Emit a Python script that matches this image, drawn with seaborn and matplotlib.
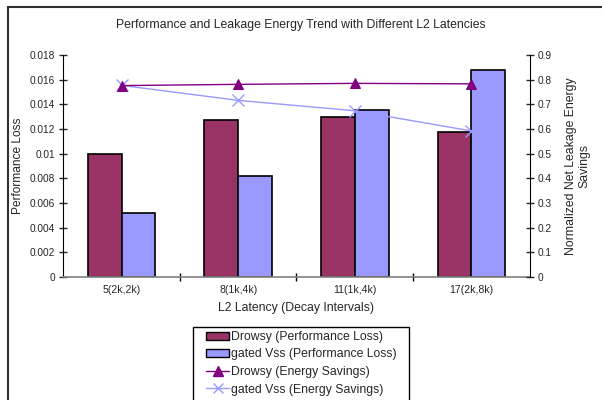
import matplotlib
matplotlib.use("Agg")
from matplotlib import pyplot as plt
from matplotlib.patches import Rectangle
from matplotlib.ticker import FixedLocator
import seaborn as sns
import pandas as pd

# Data
latencies = ["5(2k,2k)", "8(1k,4k)", "11(1k,4k)", "17(2k,8k)"]
drowsy_perf = [0.00997, 0.01273, 0.01295, 0.01173]
gated_perf = [0.00516, 0.00819, 0.01357, 0.01676]
drowsy_energy = [0.776, 0.781, 0.785, 0.783]
gated_energy = [0.777, 0.716, 0.674, 0.592]

bar_names = ["Drowsy (Performance Loss)", "gated Vss (Performance Loss)"]
line_names = ["Drowsy (Energy Savings)", "gated Vss (Energy Savings)"]

if __name__ == "__main__":
    sns.set_style("white")
    plt.rcParams["font.family"] = ["Liberation Sans", "DejaVu Sans"]

    bars = pd.DataFrame({
        "latency": latencies * 2,
        "loss": drowsy_perf + gated_perf,
        "series": [bar_names[0]] * 4 + [bar_names[1]] * 4,
    })

    fig = plt.figure(figsize=(6.02, 4.0), dpi=100)
    ax = fig.add_axes([0.105, 0.3075, 0.775, 0.555])

    sns.barplot(data=bars, x="latency", y="loss", hue="series", order=latencies,
                palette=["#993366", "#9999FF"], saturation=1, edgecolor="black",
                linewidth=1.2, width=0.58, gap=0, ax=ax, legend=False)
    ax.set_xlim(-0.5, 3.5)
    ax.set_ylim(0, 0.018)
    ax.set_yticks([i * 0.002 for i in range(10)])
    ax.set_yticklabels(["0", "0.002", "0.004", "0.006", "0.008", "0.01",
                        "0.012", "0.014", "0.016", "0.018"])

    ax2 = ax.twinx()
    # energy savings lines, drawn at the category centres
    sns.lineplot(x=latencies, y=gated_energy, color="#9999FF", marker="x",
                 markersize=8, linewidth=1, markeredgewidth=1,
                 markeredgecolor="#9999FF", ax=ax2, sort=False)
    sns.lineplot(x=latencies, y=drowsy_energy, color="#800080", marker="^",
                 markersize=7.5, linewidth=1, markeredgecolor="#800080", ax=ax2, sort=False)
    ax2.set_ylim(0, 0.9)
    ax2.set_yticks([i * 0.1 for i in range(10)])
    ax2.set_yticklabels(["0", "0.1", "0.2", "0.3", "0.4", "0.5", "0.6", "0.7", "0.8", "0.9"])
    ax2.set_xlim(-0.5, 3.5)

    for a in (ax, ax2):
        a.spines["top"].set_visible(False)
        a.spines["left"].set_color("black")
        a.spines["right"].set_color("black")
        a.spines["bottom"].set_color("#808080")
        a.spines["bottom"].set_linewidth(1.2)
    ax.spines["right"].set_visible(False)
    ax2.spines["left"].set_visible(False)
    ax2.spines["bottom"].set_visible(False)

    ax.tick_params(axis="y", direction="inout", length=6, width=1, labelsize=7.3, pad=3, left=True)
    ax2.tick_params(axis="y", direction="inout", length=6, width=1, labelsize=7.3, pad=3, right=True)
    ax.tick_params(axis="x", which="major", length=0, labelsize=7.6, pad=6)
    ax.xaxis.set_minor_locator(FixedLocator([0.5, 1.5, 2.5]))
    ax.tick_params(axis="x", which="minor", direction="inout", length=6, width=1,
                   color="black", bottom=True)

    ax.set_xlabel("L2 Latency (Decay Intervals)", fontsize=8.8, labelpad=5)
    ax.set_ylabel("Performance Loss", fontsize=8.6, labelpad=4)
    ax2.set_ylabel("Normalized Net Leakage Energy\nSavings", fontsize=8.8, labelpad=9)

    fig.text(0.5, 0.9375, "Performance and Leakage Energy Trend with Different L2 Latencies",
             ha="center", va="center", fontsize=8.8)

    # legend below the chart (its box is drawn separately, Excel-style padding)
    handles = [Rectangle((0, 0), 1, 1, facecolor="#993366", edgecolor="black"),
               Rectangle((0, 0), 1, 1, facecolor="#9999FF", edgecolor="black"),
               plt.Line2D([], [], color="#800080", marker="^", markersize=7, linewidth=1),
               plt.Line2D([], [], color="#9999FF", marker="x", markersize=7, linewidth=1)]
    fig.legend(handles, bar_names + line_names, loc="upper left",
               bbox_to_anchor=(206 / 602, 1 - 331 / 400), bbox_transform=fig.transFigure,
               fontsize=8.8, frameon=False, handlelength=1.9,
               handleheight=0.65, handletextpad=0.15, labelspacing=0.45,
               borderpad=0, borderaxespad=0)
    fig.patches.append(Rectangle((193 / 602, -0.05), 216 / 602, 0.05 + 1 - 327 / 400,
                                 transform=fig.transFigure, fill=False,
                                 edgecolor="black", linewidth=1))

    # outer chart border
    fig.patches.append(Rectangle((8 / 602, -0.1), 1.1, 1.1 - 7 / 400,
                                 transform=fig.transFigure, fill=False,
                                 edgecolor="#303030", linewidth=1.5))

    fig.savefig("out.png", dpi=100)
